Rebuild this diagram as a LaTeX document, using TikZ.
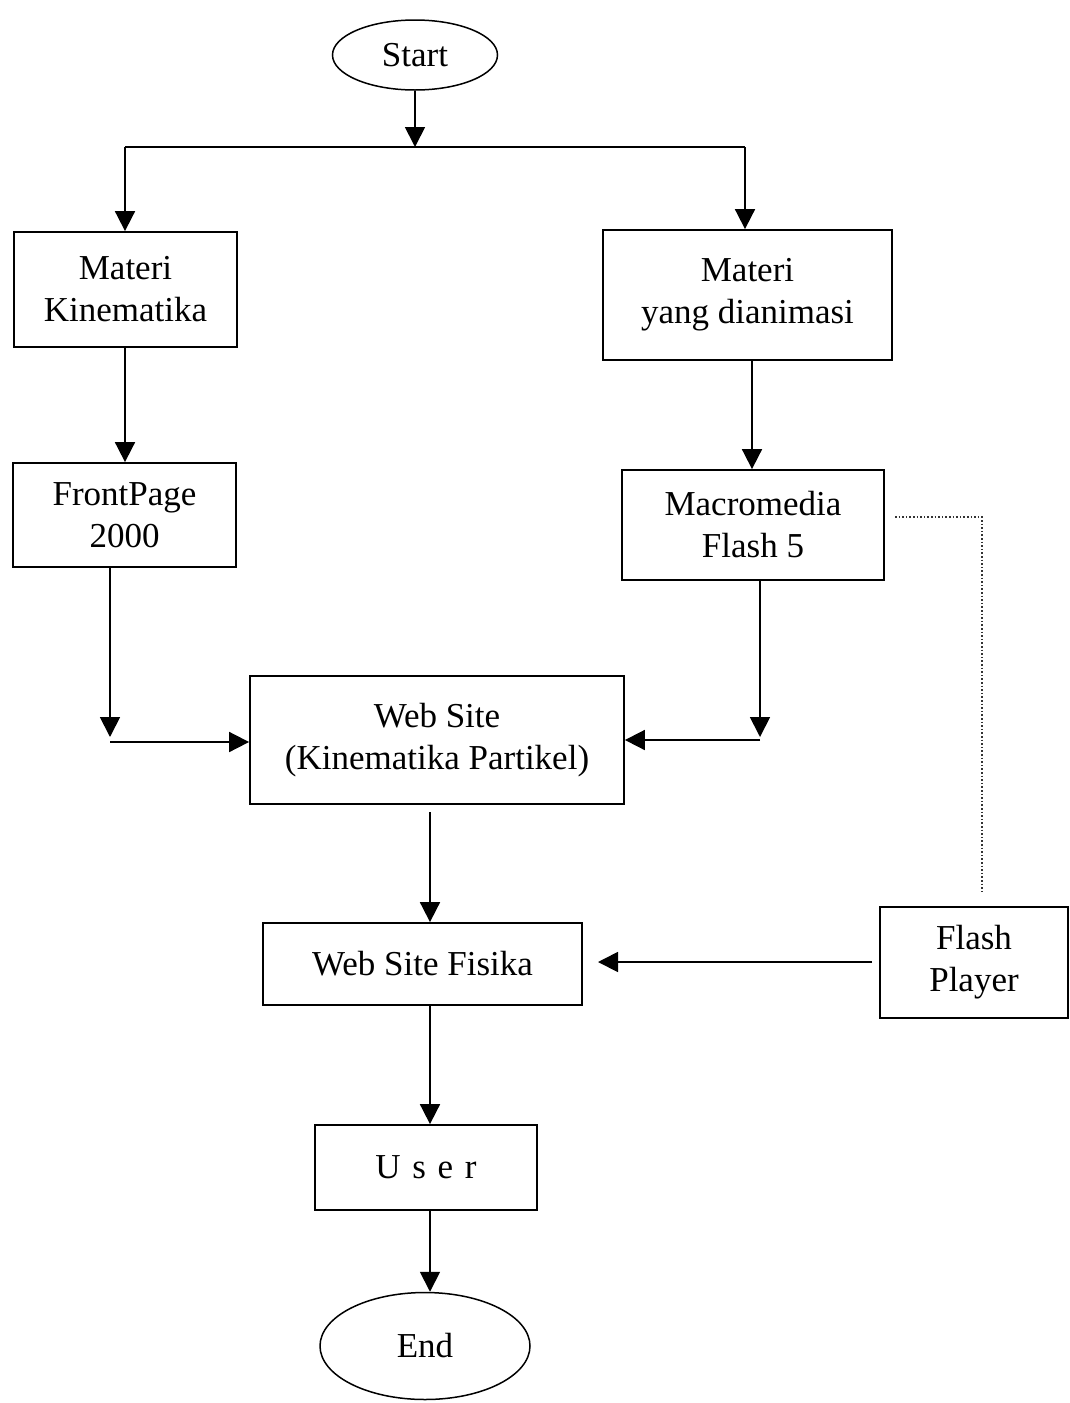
\documentclass[tikz,border=0pt]{standalone}
\usepackage{fontspec}
\setmainfont{Liberation Serif}
\usetikzlibrary{shapes.geometric,arrows.meta}
\begin{document}
\begin{tikzpicture}[x=1pt,y=-1pt,
  every node/.style={font=\fontsize{35}{42}\selectfont, align=center, inner sep=0pt},
  box/.style={draw, line width=1.8pt, rectangle},
  oval/.style={draw, line width=1.5pt, ellipse},
  conn/.style={line width=1.8pt},
  arr/.style={conn, -{Triangle[length=20pt,width=20pt]}},
  dotline/.style={line width=1.6pt, dotted, gray!40!black}]
\useasboundingbox (0,0) rectangle (1070,1403);
\node[oval, minimum width=165pt, minimum height=70pt] (start) at (415,55) {Start};
\node[box, minimum width=223pt, minimum height=115pt] (mk) at (125.5,289.5) {Materi\\Kinematika};
\node[box, minimum width=289pt, minimum height=130pt] (md) at (747.5,295) {Materi\\yang dianimasi};
\node[box, minimum width=223pt, minimum height=104pt] (fp) at (124.5,515) {FrontPage\\2000};
\node[box, minimum width=262pt, minimum height=110pt] (mf) at (753,525) {Macromedia\\Flash 5};
\node[box, minimum width=374pt, minimum height=128pt] (ws) at (437,740) {Web Site\\(Kinematika Partikel)};
\node[box, minimum width=319pt, minimum height=82pt] (wsf) at (422.5,964) {Web Site Fisika};
\node[box, minimum width=188pt, minimum height=111pt] (fpl) at (974,962.5) {Flash\\Player};
\node[box, minimum width=222pt, minimum height=85pt] (user) at (426,1167.5) {U\,\,s\,\,e\,\,r};
\node[oval, minimum width=210pt, minimum height=107pt] (end) at (425,1346) {End};

\coordinate (split) at (415,147);
\coordinate (splitL) at (125,147);
\coordinate (splitR) at (745,147);
\draw[arr] (start.south) -- (split);
\draw[conn] (splitL) -- (splitR);
\draw[arr] (splitL) -- (splitL |- mk.north);
\draw[arr] (splitR) -- (splitR |- md.north);
\draw[arr] (125,0 |- mk.south) -- (125,0 |- fp.north);
\draw[arr] (752,0 |- md.south) -- (752,0 |- mf.north);

\coordinate (fpA) at (110,0 |- fp.south);
\coordinate (fpB) at (110,737);
\coordinate (fpC) at (110,742);
\draw[arr] (fpA) -- (fpB);
\draw[arr] (fpC) -- (fpC -| ws.west);

\coordinate (mfA) at (760,0 |- mf.south);
\coordinate (mfB) at (760,737);
\coordinate (mfC) at (760,740);
\draw[arr] (mfA) -- (mfB);
\draw[arr] (mfC) -- (mfC -| ws.east);

\coordinate (wsB) at (430,812);
\draw[arr] (wsB) -- (430,0 |- wsf.north);
\coordinate (fplW) at (872,962);
\draw[arr] (fplW) -- (598,962);
\draw[arr] (430,0 |- wsf.south) -- (430,0 |- user.north);
\draw[arr] (430,0 |- user.south) -- (430,0 |- end.north);

\coordinate (d1) at (895,517);
\coordinate (d2) at (982,517);
\coordinate (d3) at (982,893);
\draw[dotline] (d1) -- (d2) -- (d3);
\end{tikzpicture}
\end{document}
